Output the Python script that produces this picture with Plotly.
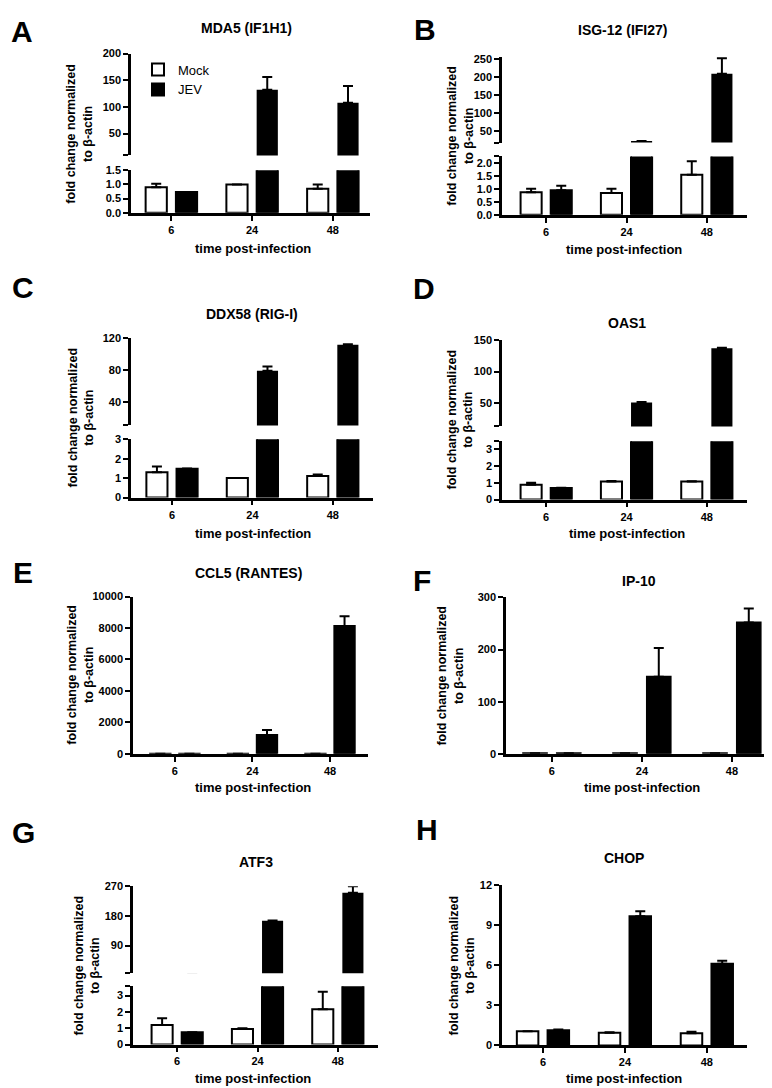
import plotly.graph_objects as go

W, H = 772, 1088
FONT = "Liberation Sans, Arial, sans-serif"

# ---------------- data ----------------
timepoints = ["6", "24", "48"]
series_names = ["Mock", "JEV"]

# A  MDA5 (IF1H1)   (None = no visible error bar)
mda5_mock = [0.90, 1.00, 0.85]
mda5_mock_err = [0.12, None, 0.15]
mda5_jev = [0.73, 132, 108]
mda5_jev_err = [None, 24, 31]

# B  ISG-12 (IFI27)
isg12_mock = [0.88, 0.85, 1.56]
isg12_mock_err = [0.13, 0.16, 0.52]
isg12_jev = [0.95, 21, 210]
isg12_jev_err = [0.18, None, 43]

# C  DDX58 (RIG-I)
ddx58_mock = [1.31, 1.01, 1.11]
ddx58_mock_err = [0.29, None, 0.08]
ddx58_jev = [1.48, 79, 112]
ddx58_jev_err = [0.02, 5.5, 0.5]

# D  OAS1
oas1_mock = [0.88, 1.08, 1.07]
oas1_mock_err = [0.12, 0.02, 0.02]
oas1_jev = [0.69, 50.5, 137.5]
oas1_jev_err = [0.02, 0.5, 0.8]

# E  CCL5 (RANTES)
ccl5_mock = [1, 1, 1]
ccl5_mock_err = [None, None, None]
ccl5_jev = [1, 1200, 8130]
ccl5_jev_err = [None, 310, 610]

# F  IP-10
ip10_mock = [1, 1, 1]
ip10_mock_err = [None, None, None]
ip10_jev = [1, 148, 252]
ip10_jev_err = [None, 55, 27]

# G  ATF3
atf3_mock = [1.19, 0.95, 2.16]
atf3_mock_err = [0.42, 0.05, 1.07]
atf3_jev = [0.75, 165, 250]
atf3_jev_err = [None, 1.0, 20]

# H  CHOP
chop_mock = [1.07, 0.96, 0.91]
chop_mock_err = [None, 0.04, 0.12]
chop_jev = [1.14, 9.68, 6.13]
chop_jev_err = [0.05, 0.37, 0.22]

# tick labels
mda5_ticks_low = ["0.0", "0.5", "1.0", "1.5"]
mda5_ticks_high = ["50", "100", "150", "200"]
isg12_ticks_low = ["0.0", "0.5", "1.0", "1.5", "2.0"]
isg12_ticks_high = ["50", "100", "150", "200", "250"]
ddx58_ticks_low = ["0", "1", "2", "3"]
ddx58_ticks_high = ["40", "80", "120"]
oas1_ticks_low = ["0", "1", "2", "3"]
oas1_ticks_high = ["50", "100", "150"]
ccl5_ticks = ["0", "2000", "4000", "6000", "8000", "10000"]
ip10_ticks = ["0", "100", "200", "300"]
atf3_ticks_low = ["0", "1", "2", "3"]
atf3_ticks_high = ["90", "180", "270"]
chop_ticks = ["0", "3", "6", "9", "12"]

# ---------------- panel geometry (pixels) ----------------
panels = [
    dict(letter="A", title="MDA5 (IF1H1)",
         mock=mda5_mock, mock_err=mda5_mock_err, jev=mda5_jev, jev_err=mda5_jev_err,
         x0=123, x1=362, xr=[-0.50, 2.46],
         low=dict(top=158, bot=201, rng=[0, 1.5], ticks=mda5_ticks_low),
         high=dict(top=40, bot=143, rng=[9, 200], ticks=mda5_ticks_high),
         letter_xy=(14, 18), title_xy=(238, 14), ytitle_xy=(71, 121), xtitle_xy=(245, 237),
         legend=True),
    dict(letter="B", title="ISG-12 (IFI27)",
         mock=isg12_mock, mock_err=isg12_mock_err, jev=isg12_jev, jev_err=isg12_jev_err,
         x0=494, x1=739, xr=[-0.55, 2.50],
         low=dict(top=144, bot=203, rng=[0, 2.27], ticks=isg12_ticks_low),
         high=dict(top=43, bot=130, rng=[16.8, 258], ticks=isg12_ticks_high),
         letter_xy=(417, 16), title_xy=(614, 16), ytitle_xy=(452, 123), xtitle_xy=(616, 238)),
    dict(letter="C", title="DDX58 (RIG-I)",
         mock=ddx58_mock, mock_err=ddx58_mock_err, jev=ddx58_jev, jev_err=ddx58_jev_err,
         x0=123, x1=365, xr=[-0.51, 2.50],
         low=dict(top=430, bot=489, rng=[0, 3], ticks=ddx58_ticks_low),
         high=dict(top=328, bot=416, rng=[10, 120], ticks=ddx58_ticks_high),
         letter_xy=(15, 277), title_xy=(244, 303), ytitle_xy=(72, 408), xtitle_xy=(245, 525)),
    dict(letter="D", title="OAS1",
         mock=oas1_mock, mock_err=oas1_mock_err, jev=oas1_jev, jev_err=oas1_jev_err,
         x0=494, x1=739, xr=[-0.55, 2.50],
         low=dict(top=432, bot=491, rng=[0, 3.47], ticks=oas1_ticks_low),
         high=dict(top=330, bot=417, rng=[12, 150], ticks=oas1_ticks_high),
         letter_xy=(416, 278), title_xy=(619, 312), ytitle_xy=(452, 410), xtitle_xy=(619, 525)),
    dict(letter="E", title="CCL5 (RANTES)",
         mock=ccl5_mock, mock_err=ccl5_mock_err, jev=ccl5_jev, jev_err=ccl5_jev_err,
         x0=125, x1=360, xr=[-0.54, 2.49],
         low=dict(top=589, bot=748, rng=[0, 10000], ticks=ccl5_ticks),
         high=None,
         letter_xy=(15, 565), title_xy=(240, 565), ytitle_xy=(72, 668), xtitle_xy=(245, 782)),
    dict(letter="F", title="IP-10",
         mock=ip10_mock, mock_err=ip10_mock_err, jev=ip10_jev, jev_err=ip10_jev_err,
         x0=498, x1=768, xr=[-0.51, 2.49],
         low=dict(top=590, bot=748, rng=[0, 300], ticks=ip10_ticks),
         high=None,
         letter_xy=(414, 573), title_xy=(631, 573), ytitle_xy=(442, 669), xtitle_xy=(634, 782)),
    dict(letter="G", title="ATF3",
         mock=atf3_mock, mock_err=atf3_mock_err, jev=atf3_jev, jev_err=atf3_jev_err,
         x0=125, x1=370, xr=[-0.55, 2.50],
         low=dict(top=983, bot=1042, rng=[0, 3.58], ticks=atf3_ticks_low),
         high=dict(top=882, bot=970, rng=[5.5, 270], ticks=atf3_ticks_high),
         letter_xy=(15, 828), title_xy=(248, 857), ytitle_xy=(79, 962), xtitle_xy=(245, 1076)),
    dict(letter="H", title="CHOP",
         mock=chop_mock, mock_err=chop_mock_err, jev=chop_jev, jev_err=chop_jev_err,
         x0=494, x1=739, xr=[-0.50, 2.49],
         low=dict(top=881, bot=1043, rng=[0, 12], ticks=chop_ticks),
         high=None,
         letter_xy=(419, 825), title_xy=(616, 853), ytitle_xy=(454, 962), xtitle_xy=(616, 1076)),
]

fig = go.Figure()
layout = {}
annotations = []
tickfont = dict(family=FONT, size=11, color="black", weight="bold")


def fx(px):
    return px / W


def fy(py):
    return 1 - py / H


def yaxis_dict(seg, anchor, end_cap):
    vals = [float(t) for t in seg["ticks"]]
    text = list(seg["ticks"])
    lo, hi = seg["rng"]
    if end_cap == "top" and abs(vals[-1] - hi) > 1e-6:
        vals.append(hi)
        text.append("")
    if end_cap == "bottom" and abs(vals[0] - lo) > 1e-6:
        vals.insert(0, lo)
        text.insert(0, "")
    return dict(domain=[fy(seg["bot"]), fy(seg["top"])], range=seg["rng"], anchor=anchor,
                showline=True, linecolor="black", linewidth=2.5, ticks="outside",
                ticklen=5, tickwidth=2, tickcolor="black", tickvals=vals, ticktext=text,
                tickfont=tickfont, showgrid=False, zeroline=False, fixedrange=True)


def err_dict(errs, visible=True):
    return dict(type="data", symmetric=False, array=errs,
                arrayminus=[0 if e is not None else None for e in errs],
                color="black", thickness=2, width=5, visible=visible)


yi = 0
for pi, p in enumerate(panels):
    xi = pi + 1
    xname = "x" if xi == 1 else f"x{xi}"
    segs = [("low", p["low"])]
    if p["high"] is not None:
        segs.append(("high", p["high"]))
    ynames = {}
    for kind, seg in segs:
        yi += 1
        yname = "y" if yi == 1 else f"y{yi}"
        ynames[kind] = yname
        cap = "top" if kind == "low" else "bottom"
        if p["high"] is None:
            cap = None
        layout["yaxis" if yi == 1 else f"yaxis{yi}"] = yaxis_dict(seg, xname, cap)
    layout["xaxis" if xi == 1 else f"xaxis{xi}"] = dict(
        domain=[fx(p["x0"]), fx(p["x1"])], range=p["xr"], type="category",
        anchor=ynames["low"], showline=True, linecolor="black", linewidth=2.5,
        ticks="outside", ticklen=5, tickwidth=2, tickcolor="black",
        tickfont=tickfont, showgrid=False, zeroline=False, fixedrange=True)

    for kind, yname in ynames.items():
        show = bool(p.get("legend")) and kind == "low"
        low = kind == "low"
        outline = 2 if low else 0
        fig.add_trace(go.Bar(
            x=timepoints, y=p["mock"], name=series_names[0], xaxis=xname, yaxis=yname,
            marker=dict(color="white", line=dict(color="black", width=outline)),
            error_y=err_dict(p["mock_err"], visible=low),
            showlegend=show, legendgroup="mock"))
        fig.add_trace(go.Bar(
            x=timepoints, y=p["jev"], name=series_names[1], xaxis=xname, yaxis=yname,
            marker=dict(color="black", line=dict(color="black", width=outline)),
            error_y=err_dict(p["jev_err"]),
            showlegend=show, legendgroup="jev"))

    lx, ly = p["letter_xy"]
    annotations.append(dict(text=p["letter"], x=fx(lx), y=fy(ly), xref="paper", yref="paper",
                            showarrow=False, xanchor="center", yanchor="middle",
                            font=dict(family=FONT, size=30, color="black", weight="bold")))
    tx, ty = p["title_xy"]
    annotations.append(dict(text=p["title"], x=fx(tx), y=fy(ty), xref="paper", yref="paper",
                            showarrow=False, xanchor="center", yanchor="middle",
                            font=dict(family=FONT, size=14, color="black", weight="bold")))
    ax, ay = p["ytitle_xy"]
    annotations.append(dict(text="fold change normalized<br>to β-actin", x=fx(ax), y=fy(ay),
                            xref="paper", yref="paper", showarrow=False, textangle=-90,
                            xanchor="center", yanchor="middle",
                            font=dict(family=FONT, size=12.5, color="black", weight="bold")))
    bx, by = p["xtitle_xy"]
    annotations.append(dict(text="time post-infection", x=fx(bx), y=fy(by), xref="paper",
                            yref="paper", showarrow=False, xanchor="center", yanchor="middle",
                            font=dict(family=FONT, size=13, color="black", weight="bold")))

fig.update_layout(
    width=W, height=H, margin=dict(l=0, r=0, t=0, b=0),
    paper_bgcolor="white", plot_bgcolor="white",
    barmode="group", bargap=0.25, bargroupgap=0.3,
    annotations=annotations,
    legend=dict(x=fx(130), y=fy(41), xanchor="left", yanchor="top",
                font=dict(family=FONT, size=13, color="black"),
                bgcolor="rgba(0,0,0,0)", tracegroupgap=0, itemwidth=30),
    **layout,
)

fig.write_html("out.html")
